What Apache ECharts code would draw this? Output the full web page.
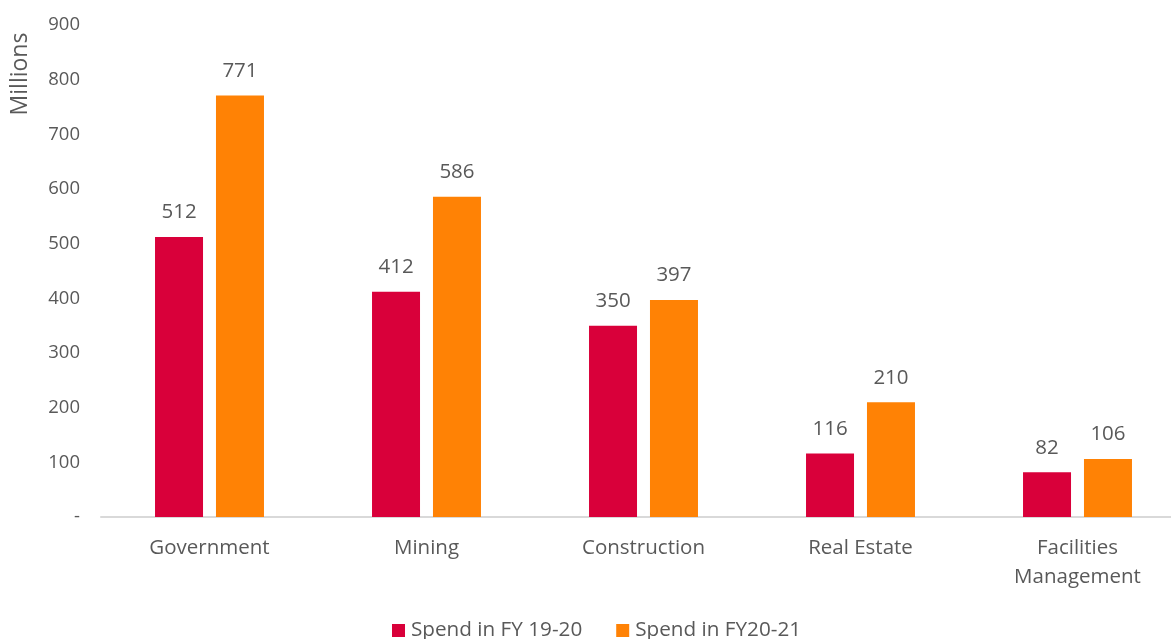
<!DOCTYPE html>
<html>
<head>
<meta charset="utf-8">
<script src="https://cdn.jsdelivr.net/npm/echarts@6/dist/echarts.min.js"></script>
<style>
html,body{margin:0;padding:0;background:#fff;}
#chart{width:1171px;height:639px;}
</style>
</head>
<body>
<div id="chart"></div>
<script>
const categories = ['Government', 'Mining', 'Construction', 'Real Estate', 'Facilities\nManagement'];
const spend1920 = [512, 412, 350, 116, 82];
const spend2021 = [771, 586, 397, 210, 106];
const seriesNames = ['Spend in FY 19-20', 'Spend in FY20-21'];
const yTickLabels = {0: '-', 100: '100', 200: '200', 300: '300', 400: '400', 500: '500', 600: '600', 700: '700', 800: '800', 900: '900'};

const FONT = '"Open Sans", "Noto Sans", sans-serif';
const TXT = '#595959';

const chart = echarts.init(document.getElementById('chart'), null, {renderer: 'canvas'});
chart.setOption({
  animation: false,
  backgroundColor: '#ffffff',
  textStyle: {fontFamily: FONT},
  grid: {left: 101, top: 25, width: 1085, bottom: 122, containLabel: false, outerBoundsMode: 'none'},
  legend: {
    data: seriesNames,
    bottom: -7,
    left: 387,
    itemWidth: 13,
    itemHeight: 13,
    itemGap: 34,
    icon: 'rect',
    textStyle: {fontFamily: FONT, fontSize: 20.7, color: TXT, padding: [0, 0, 0, 1]}
  },
  graphic: [{
    type: 'text',
    rotation: Math.PI / 2,
    x: 20, y: 74,
    style: {text: 'Millions', fontFamily: FONT, fontSize: 23, fill: TXT, align: 'center', verticalAlign: 'middle'}
  }],
  xAxis: {
    type: 'category',
    data: categories,
    axisLine: {lineStyle: {color: '#d9d9d9', width: 2}},
    axisTick: {show: false},
    axisLabel: {fontFamily: FONT, fontSize: 20.5, color: TXT, margin: 17, lineHeight: 29, interval: 0}
  },
  yAxis: {
    type: 'value',
    min: 0, max: 900, interval: 100,
    splitLine: {show: false},
    axisLine: {show: false},
    axisTick: {show: false},
    axisLabel: {fontFamily: FONT, fontSize: 18.5, color: TXT, margin: 21,
      formatter: v => yTickLabels[v] !== undefined ? yTickLabels[v] : String(v)}
  },
  series: [
    {
      name: seriesNames[0], type: 'bar', data: spend1920,
      barWidth: 48, barGap: '27%',
      itemStyle: {color: '#D9003A'},
      label: {show: true, position: 'top', distance: 14, fontFamily: FONT, fontSize: 20.5, color: TXT}
    },
    {
      name: seriesNames[1], type: 'bar', data: spend2021,
      barWidth: 48, barGap: '27%',
      itemStyle: {color: '#FF8205'},
      label: {show: true, position: 'top', distance: 14, fontFamily: FONT, fontSize: 20.5, color: TXT}
    }
  ]
});
</script>
</body>
</html>
